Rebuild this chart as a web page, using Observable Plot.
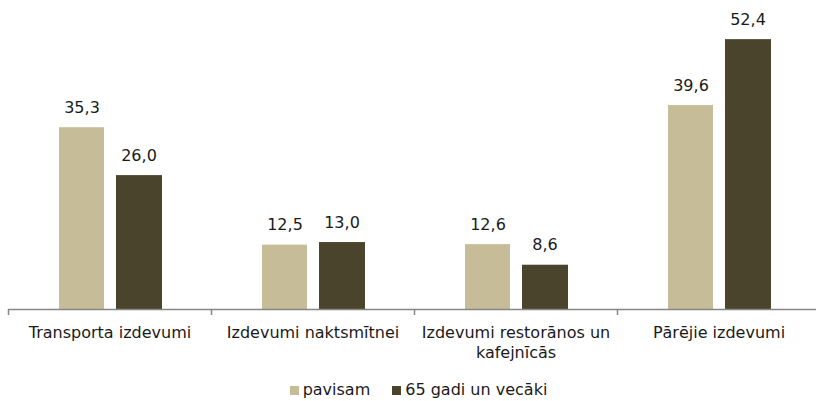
<!DOCTYPE html>
<html><head><meta charset="utf-8">
<script src="https://cdn.jsdelivr.net/npm/d3@7"></script>
<script src="https://cdn.jsdelivr.net/npm/@observablehq/plot@0.6"></script>
<style>
body{margin:0;background:#fff;font-family:"DejaVu Sans",Verdana,sans-serif;position:relative;width:816px;height:401px;overflow:hidden;}
#legend{position:absolute;left:0;top:380px;width:816px;box-sizing:border-box;padding-left:21px;text-align:center;font-size:16px;line-height:19px;color:#1a1a1a;white-space:nowrap;}
.it{display:inline-block;margin:0 11px;}
.sw{display:inline-block;width:9px;height:9px;margin-right:4px;vertical-align:baseline;}
</style></head>
<body><div id="chart"></div><div id="legend"></div>
<script>
const categories = ["Transporta izdevumi","Izdevumi naktsmītnei","Izdevumi restorānos un kafejnīcās","Pārējie izdevumi"];
const seriesNames = ["pavisam","65 gadi un vecāki"];
const pavisam = [35.3,12.5,12.6,39.6];
const vecaki = [26.0,13.0,8.6,52.4];
const colors = ["#c6bd98","#4a442d"];
const tickLabels = {"Izdevumi restorānos un kafejnīcās":"Izdevumi restorānos un\nkafejnīcās"};

const d1 = categories.map((c,i)=>({cat:c, v:pavisam[i]}));
const d2 = categories.map((c,i)=>({cat:c, v:vecaki[i]}));
const fmt = v => v.toFixed(1).replace(".", ",");

const W = 816, H = 370, mL = 8, mR = -4, mB = 61;
const bw = (W - mL - mR)/categories.length;
const txt = "#1a1a1a";

const plot = Plot.plot({
  width: W, height: H, marginTop: 0, marginBottom: mB, marginLeft: mL, marginRight: mR,
  style: {fontFamily: '"DejaVu Sans", Verdana, sans-serif', fontSize: "16px", color: txt, background: "#fff", overflow: "visible"},
  x: {domain: categories, padding: 0, axis: null},
  y: {domain: [0, 60], axis: null},
  marks: [
    Plot.barY(d1, {x: "cat", y: "v", fill: colors[0], insetLeft: 51, insetRight: 107}),
    Plot.barY(d2, {x: "cat", y: "v", fill: colors[1], insetLeft: 108, insetRight: 49}),
    Plot.text(d1, {x: "cat", y: "v", text: d => fmt(d.v), dx: -28, dy: -20, fontSize: 16, fill: txt}),
    Plot.text(d2, {x: "cat", y: "v", text: d => fmt(d.v), dx: 29, dy: -20, fontSize: 16, fill: txt}),
    Plot.ruleY([0], {stroke: "#868686", strokeWidth: 1.5}),
    Plot.axisX({ticks: categories, tickSize: 6, tickFormat: () => "", dx: -bw/2, stroke: "#868686", strokeWidth: 1.5, label: null}),
    Plot.text(categories, {x: d => d, text: d => tickLabels[d] ?? d, frameAnchor: "bottom", lineAnchor: "top", dy: 15, fontSize: 16, lineHeight: 1.22, fill: txt})
  ]
});
document.getElementById("chart").appendChild(plot);

const lg = document.getElementById("legend");
seriesNames.forEach((s,i)=>{
  const it = document.createElement("span"); it.className="it";
  const sw = document.createElement("span"); sw.className="sw"; sw.style.background=colors[i];
  const t = document.createElement("span"); t.textContent = s;
  it.appendChild(sw); it.appendChild(t); lg.appendChild(it);
});
</script></body></html>
